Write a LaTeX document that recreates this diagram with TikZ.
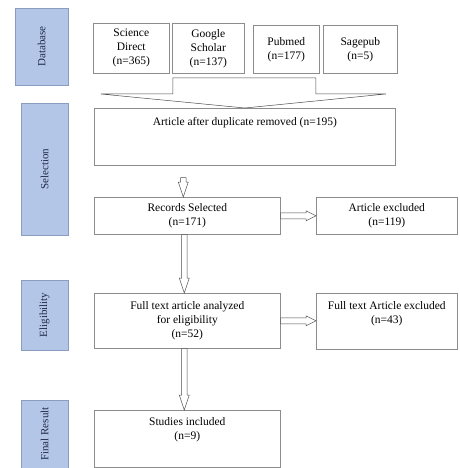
\documentclass[tikz,border=0pt]{standalone}
\usepackage{fontspec}
\setmainfont{Liberation Serif}
\usetikzlibrary{positioning,calc}

\definecolor{phasefill}{HTML}{B4C6E7}
\definecolor{phaseedge}{HTML}{8A9CC0}
\definecolor{phasetext}{HTML}{1F2A48}

\tikzset{
  box/.style={draw=black!45, line width=0.6pt, fill=white, align=center,
    inner sep=2pt, anchor=north west, font=\fontsize{11.5}{14}\selectfont},
  boxtext/.style={align=center, inner sep=0pt, font=\fontsize{11.5}{14}\selectfont},
  phase/.style={draw=phaseedge, fill=phasefill, rotate=90, text=phasetext,
    inner sep=0pt, font=\fontsize{11}{13}\selectfont},
  hollow/.style={draw=black!70, line width=0.5pt, fill=white},
}

% hollow block arrows, first argument the tail, second the tip
\newcommand{\vhollow}[2]{%
  \draw[hollow] ($(#1)+(-2.7,0)$) -- ($(#2)+(-2.7,-15)$) -- ($(#2)+(-5,-15)$)
    -- (#2) -- ($(#2)+(5,-15)$) -- ($(#2)+(2.7,-15)$) -- ($(#1)+(2.7,0)$) -- cycle;}
\newcommand{\hhollow}[2]{%
  \draw[hollow] ($(#1)+(0,-3)$) -- ($(#2)+(-10,-3)$) -- ($(#2)+(-10,-5)$)
    -- (#2) -- ($(#2)+(-10,5)$) -- ($(#2)+(-10,3)$) -- ($(#1)+(0,3)$) -- cycle;}

\begin{document}
\begin{tikzpicture}[x=1pt,y=-1pt]
  \useasboundingbox (0,0) rectangle (459,468);

  % phases
  \node[phase, minimum width=77, minimum height=53] (pdb) at (41.5,46.5) {Database};
  \node[phase, minimum width=132, minimum height=47] (psel) at (44.5,169) {Selection};
  \node[phase, minimum width=70, minimum height=47] (pel) at (44.5,315) {Eligibility};
  \node[phase, minimum width=68, minimum height=47] (pfin) at (44.5,434) {Final Result};

  % sources
  \node[box, minimum width=76, minimum height=50] (sd) at (93,23) {Science\\Direct\\(n=365)};
  \node[box, minimum width=72, minimum height=50] (gs) at (172,23) {Google\\Scholar\\(n=137)};
  \node[box, minimum width=66, minimum height=48] (pm) at (253,25) {Pubmed\\(n=177)};
  \node[box, minimum width=74, minimum height=48] (sp) at (323,25) {Sagepub\\(n=5)};

  % main steps
  \node[box, minimum width=301, minimum height=57] (dup) at (94,108) {};
  \node[boxtext, below=9pt of dup.north] (duptext) {Article after duplicate removed (n=195)};
  \node[box, minimum width=186, minimum height=37] (rec) at (94,197) {Records Selected\\(n=171)};
  \node[box, minimum width=141, minimum height=37] (exc) at (316,197) {Article excluded\\(n=119)};
  \node[box, minimum width=186, minimum height=55] (full) at (94,293)
    {Full text article analyzed\\for eligibility\\(n=52)};
  \node[box, minimum width=141, minimum height=56] (fexc) at (316,293) {};
  \node[boxtext, below=8pt of fexc.north] (fexctext) {Full text Article excluded\\(n=43)};
  \node[box, minimum width=186, minimum height=57] (inc) at (94,410) {};
  \node[boxtext, below=7pt of inc.north] (inctext) {Studies included\\(n=9)};

  % funnel from the sources
  \draw[hollow] ($(dup.north)+(-72,-30)$) -- ($(dup.north)+(71,-30)$)
    -- ($(dup.north)+(71,-14)$) -- ($(dup.north)+(141,-14)$) -- (dup.north)
    -- ($(dup.north)+(-144,-14)$) -- ($(dup.north)+(-72,-14)$) -- cycle;

  \coordinate (t1) at ($(rec.north |- dup.south)+(-4,12)$);
  \coordinate (h1) at ($(rec.north)+(-4,0)$);
  \vhollow{t1}{h1}
  \coordinate (t2) at ($(rec.south)+(-3,0)$);
  \coordinate (h2) at ($(full.north)+(-3,0)$);
  \vhollow{t2}{h2}
  \coordinate (t3) at ($(full.south)+(-3,0)$);
  \coordinate (h3) at ($(inc.north)+(-3,0)$);
  \vhollow{t3}{h3}

  \coordinate (h4) at (rec.east -| exc.west);
  \hhollow{rec.east}{h4}
  \coordinate (h5) at (full.east -| fexc.west);
  \hhollow{full.east}{h5}
\end{tikzpicture}
\end{document}
